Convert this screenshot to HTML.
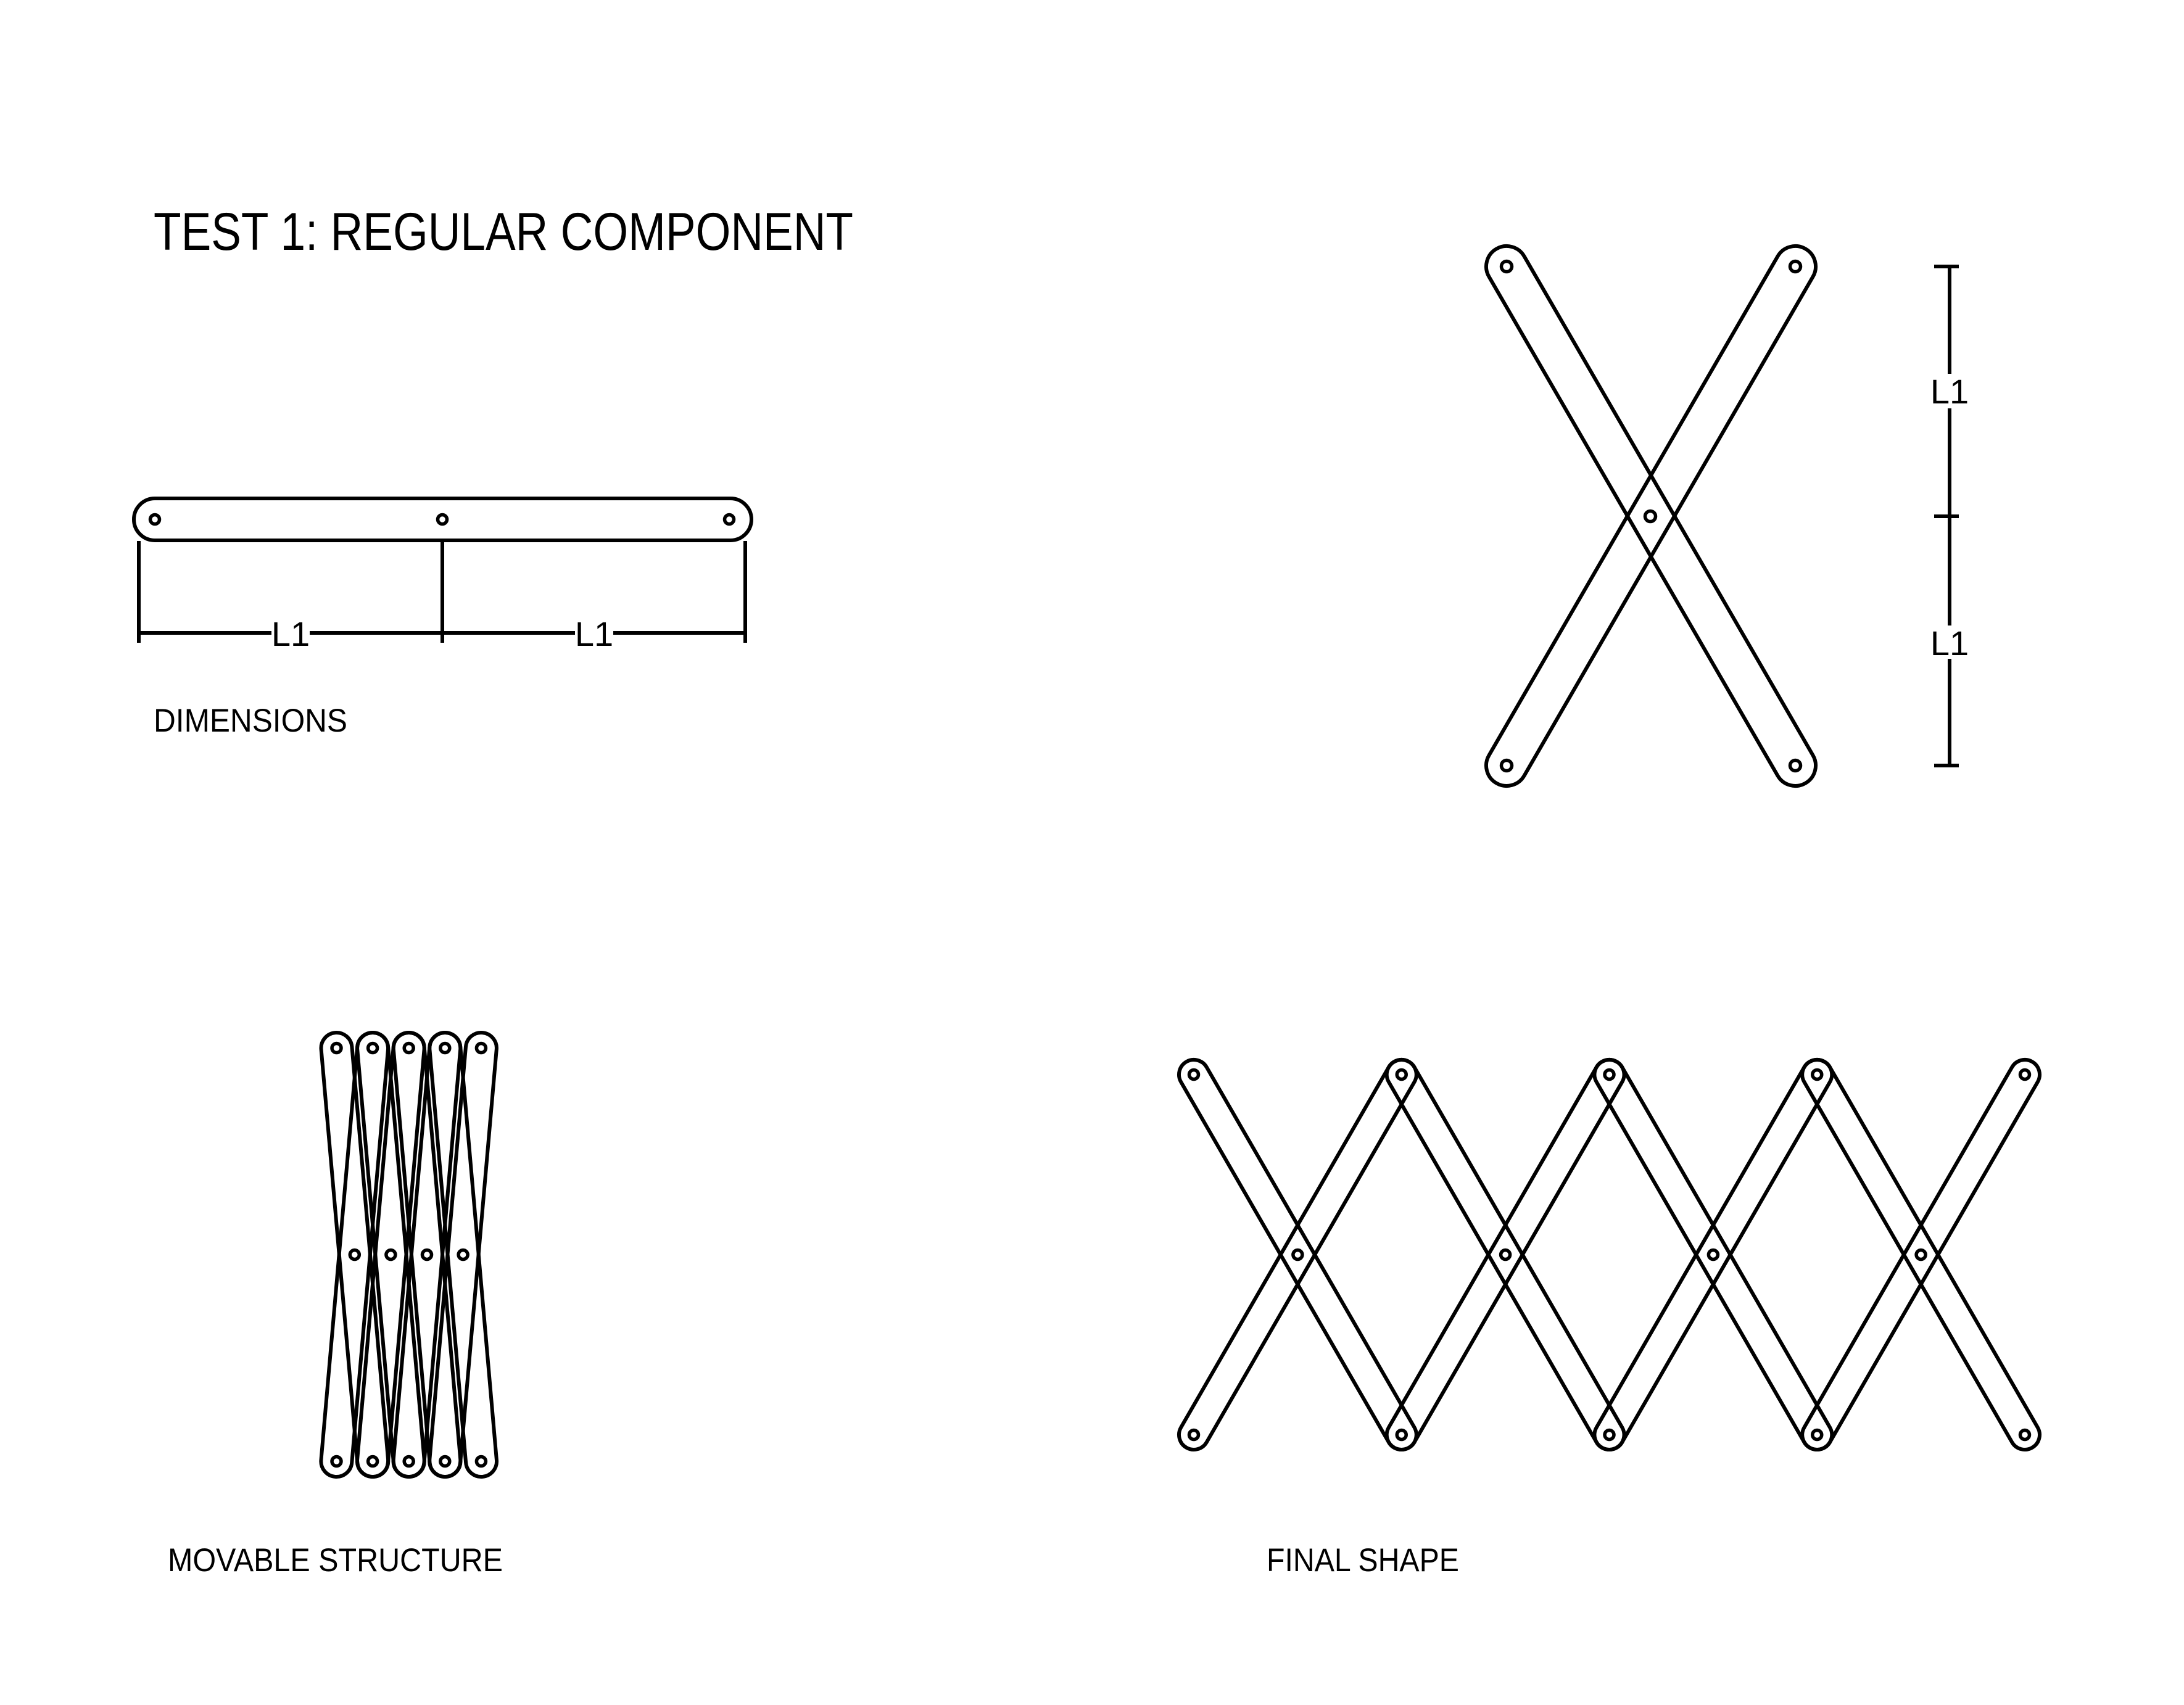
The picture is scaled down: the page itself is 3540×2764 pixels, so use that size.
<!DOCTYPE html>
<html><head><meta charset="utf-8"><style>
html,body{margin:0;padding:0;background:#fff;}
svg{display:block;}
text{font-family:"Liberation Sans",sans-serif;fill:#000;}
</style></head><body>
<svg width="3540" height="2764" viewBox="0 0 3540 2764" xmlns="http://www.w3.org/2000/svg">
<rect width="3540" height="2764" fill="#fff"/>
<text x="249" y="405" font-size="86" textLength="1134" lengthAdjust="spacingAndGlyphs">TEST 1: REGULAR COMPONENT</text>
<text x="249" y="1186" font-size="53" textLength="314" lengthAdjust="spacingAndGlyphs">DIMENSIONS</text>
<text x="272" y="2547" font-size="53" textLength="543" lengthAdjust="spacingAndGlyphs">MOVABLE STRUCTURE</text>
<text x="2053" y="2547" font-size="53" textLength="312" lengthAdjust="spacingAndGlyphs">FINAL SHAPE</text>

<g fill="none" stroke="#000" stroke-width="6">
<rect x="217" y="808" width="1001" height="68" rx="34"/>
<line x1="225" y1="877" x2="225" y2="1042"/>
<line x1="717" y1="877" x2="717" y2="1042"/>
<line x1="1208" y1="877" x2="1208" y2="1042"/>
<line x1="225" y1="1026" x2="440" y2="1026"/>
<line x1="502" y1="1026" x2="717" y2="1026"/>
<line x1="717" y1="1026" x2="932" y2="1026"/>
<line x1="994" y1="1026" x2="1208" y2="1026"/>

<rect x="-33" y="-33" width="1000.6" height="66" rx="33" transform="translate(2442 432) rotate(59.95)"/>
<rect x="-33" y="-33" width="1000.6" height="66" rx="33" transform="translate(2910 432) rotate(120.05)"/>
<line x1="3160" y1="432" x2="3160" y2="606"/>
<line x1="3160" y1="662" x2="3160" y2="1014"/>
<line x1="3160" y1="1068" x2="3160" y2="1241"/>
<line x1="3135" y1="432" x2="3175" y2="432"/>
<line x1="3135" y1="837" x2="3175" y2="837"/>
<line x1="3135" y1="1241" x2="3175" y2="1241"/>

<rect x="-25" y="-25" width="722.6" height="50" rx="25" transform="translate(545.5 1699) rotate(84.99)"/>
<rect x="-25" y="-25" width="722.6" height="50" rx="25" transform="translate(604.1 1699) rotate(95.01)"/>
<rect x="-25" y="-25" width="722.6" height="50" rx="25" transform="translate(604.1 1699) rotate(84.99)"/>
<rect x="-25" y="-25" width="722.6" height="50" rx="25" transform="translate(662.7 1699) rotate(95.01)"/>
<rect x="-25" y="-25" width="722.6" height="50" rx="25" transform="translate(662.7 1699) rotate(84.99)"/>
<rect x="-25" y="-25" width="722.6" height="50" rx="25" transform="translate(721.3 1699) rotate(95.01)"/>
<rect x="-25" y="-25" width="722.6" height="50" rx="25" transform="translate(721.3 1699) rotate(84.99)"/>
<rect x="-25" y="-25" width="722.6" height="50" rx="25" transform="translate(779.9 1699) rotate(95.01)"/>

<rect x="-24" y="-24" width="722.1" height="48" rx="24" transform="translate(1935 1742) rotate(60.03)"/>
<rect x="-24" y="-24" width="722.1" height="48" rx="24" transform="translate(2271.75 1742) rotate(119.97)"/>
<rect x="-24" y="-24" width="722.1" height="48" rx="24" transform="translate(2271.75 1742) rotate(60.03)"/>
<rect x="-24" y="-24" width="722.1" height="48" rx="24" transform="translate(2608.5 1742) rotate(119.97)"/>
<rect x="-24" y="-24" width="722.1" height="48" rx="24" transform="translate(2608.5 1742) rotate(60.03)"/>
<rect x="-24" y="-24" width="722.1" height="48" rx="24" transform="translate(2945.25 1742) rotate(119.97)"/>
<rect x="-24" y="-24" width="722.1" height="48" rx="24" transform="translate(2945.25 1742) rotate(60.03)"/>
<rect x="-24" y="-24" width="722.1" height="48" rx="24" transform="translate(3282 1742) rotate(119.97)"/>
</g>

<g fill="none" stroke="#000" stroke-width="5.5">
<circle cx="251" cy="842" r="7.5"/><circle cx="717" cy="842" r="7.5"/><circle cx="1182" cy="842" r="7.5"/>
<circle cx="2442" cy="432" r="8.5"/><circle cx="2910" cy="432" r="8.5"/><circle cx="2675" cy="837" r="8.5"/><circle cx="2442" cy="1241" r="8.5"/><circle cx="2910" cy="1241" r="8.5"/>
<circle cx="545.5" cy="1699" r="7.5"/><circle cx="604.1" cy="1699" r="7.5"/><circle cx="662.7" cy="1699" r="7.5"/><circle cx="721.3" cy="1699" r="7.5"/><circle cx="779.9" cy="1699" r="7.5"/>
<circle cx="545.5" cy="2369" r="7.5"/><circle cx="604.1" cy="2369" r="7.5"/><circle cx="662.7" cy="2369" r="7.5"/><circle cx="721.3" cy="2369" r="7.5"/><circle cx="779.9" cy="2369" r="7.5"/>
<circle cx="574.8" cy="2034" r="7.5"/><circle cx="633.4" cy="2034" r="7.5"/><circle cx="692" cy="2034" r="7.5"/><circle cx="750.6" cy="2034" r="7.5"/>
<circle cx="1935" cy="1742" r="7.5"/><circle cx="2271.75" cy="1742" r="7.5"/><circle cx="2608.5" cy="1742" r="7.5"/><circle cx="2945.25" cy="1742" r="7.5"/><circle cx="3282" cy="1742" r="7.5"/>
<circle cx="1935" cy="2326" r="7.5"/><circle cx="2271.75" cy="2326" r="7.5"/><circle cx="2608.5" cy="2326" r="7.5"/><circle cx="2945.25" cy="2326" r="7.5"/><circle cx="3282" cy="2326" r="7.5"/>
<circle cx="2103.4" cy="2034" r="7.5"/><circle cx="2440.1" cy="2034" r="7.5"/><circle cx="2776.9" cy="2034" r="7.5"/><circle cx="3113.6" cy="2034" r="7.5"/>
</g>

<text x="471" y="1047" font-size="56" text-anchor="middle">L1</text>
<text x="963" y="1047" font-size="56" text-anchor="middle">L1</text>
<text x="3160" y="654" font-size="56" text-anchor="middle">L1</text>
<text x="3160" y="1062" font-size="56" text-anchor="middle">L1</text>
</svg>
</body></html>
